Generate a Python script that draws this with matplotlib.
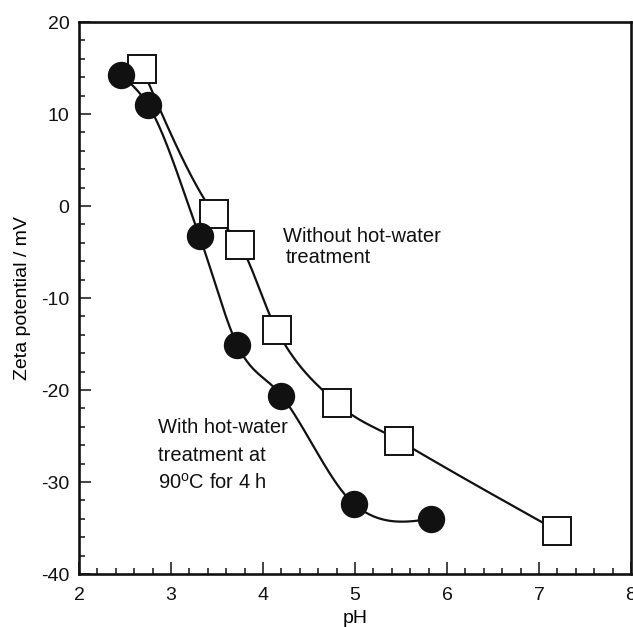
import numpy as np
import matplotlib
matplotlib.use("Agg")
import matplotlib.pyplot as plt
from matplotlib.ticker import MultipleLocator

plt.rcParams["font.family"] = ["Liberation Sans", "DejaVu Sans"]
plt.rcParams["mathtext.fontset"] = "custom"
plt.rcParams["mathtext.rm"] = "Liberation Sans"
plt.rcParams["axes.unicode_minus"] = False

# with hot-water treatment (filled circles)
ph_hot = [2.46, 2.75, 3.31, 3.72, 4.20, 4.99, 5.83]
zeta_hot = [14.2, 11.0, -3.3, -15.1, -20.6, -32.4, -34.0]

# without hot-water treatment (open squares)
ph_raw = [2.69, 3.47, 3.75, 4.15, 4.80, 5.48, 7.20]
zeta_raw = [14.9, -0.9, -4.2, -13.5, -21.4, -25.5, -35.3]


def smooth_curve(x, y, n=60):
    # cubic hermite through the points, 3-point slopes, natural ends
    x = np.asarray(x, float)
    y = np.asarray(y, float)
    h = np.diff(x)
    s = np.diff(y) / h
    m = np.zeros(len(x))
    m[1:-1] = (h[1:] * s[:-1] + h[:-1] * s[1:]) / (h[:-1] + h[1:])
    m[0] = (3 * s[0] - m[1]) / 2
    m[-1] = (3 * s[-1] - m[-2]) / 2
    xs_all, ys_all = [], []
    for i in range(len(h)):
        t = np.linspace(0, 1, n)
        h00 = 2 * t**3 - 3 * t**2 + 1
        h10 = t**3 - 2 * t**2 + t
        h01 = -2 * t**3 + 3 * t**2
        h11 = t**3 - t**2
        xs_all.append(x[i] + t * h[i])
        ys_all.append(h00 * y[i] + h10 * h[i] * m[i] + h01 * y[i + 1] + h11 * h[i] * m[i + 1])
    return np.concatenate(xs_all), np.concatenate(ys_all)


fig = plt.figure(figsize=(6.33, 6.27), dpi=100)
ax = fig.add_axes([0.1248, 0.0845, 0.872, 0.8804])

xs, ys = smooth_curve(ph_raw, zeta_raw)
ax.plot(xs, ys, color="#111111", lw=1.6, zorder=2)
xs, ys = smooth_curve(ph_hot, zeta_hot)
ax.plot(xs, ys, color="#111111", lw=1.6, zorder=2)

ax.plot(ph_raw, zeta_raw, ls="none", marker="s", ms=20.8, mfc="white",
        mec="#111111", mew=1.4, zorder=3)
ax.plot(ph_hot, zeta_hot, ls="none", marker="o", ms=18.7, mfc="#111111",
        mec="#111111", mew=1, zorder=4)

ax.set_xlim(2, 8)
ax.set_ylim(-40, 20)
ax.xaxis.set_major_locator(MultipleLocator(1))
ax.xaxis.set_minor_locator(MultipleLocator(0.2))
ax.yaxis.set_major_locator(MultipleLocator(10))
ax.yaxis.set_minor_locator(MultipleLocator(2))
ax.tick_params(which="both", direction="in", top=False, right=False,
               width=1.1, labelsize=14, colors="#111111")
ax.tick_params(which="major", length=8.6)
ax.tick_params(which="minor", length=4.3)
ax.tick_params(axis="x", pad=9)
ax.tick_params(axis="y", pad=7)
for s in ax.spines.values():
    s.set_linewidth(1.9)
    s.set_color("#111111")

ax.set_xlabel("pH", fontsize=14, labelpad=5)
ax.set_ylabel("Zeta potential / mV", fontsize=14, labelpad=7)

ax.text(4.22, -3.9, "Without hot-water", fontsize=14.5, va="baseline", color="#111111")
ax.text(4.245, -6.2, "treatment", fontsize=14.5, va="baseline", color="#111111")
ax.text(2.855, -24.7, "With hot-water", fontsize=14.5, va="baseline", color="#111111")
ax.text(2.855, -27.7, "treatment at", fontsize=14.5, va="baseline", color="#111111")
ax.text(2.855, -30.7, r"90$^{\mathregular{o}}$C for 4 h", fontsize=14.5, va="baseline",
        color="#111111")

fig.savefig("out.png", dpi=100)
